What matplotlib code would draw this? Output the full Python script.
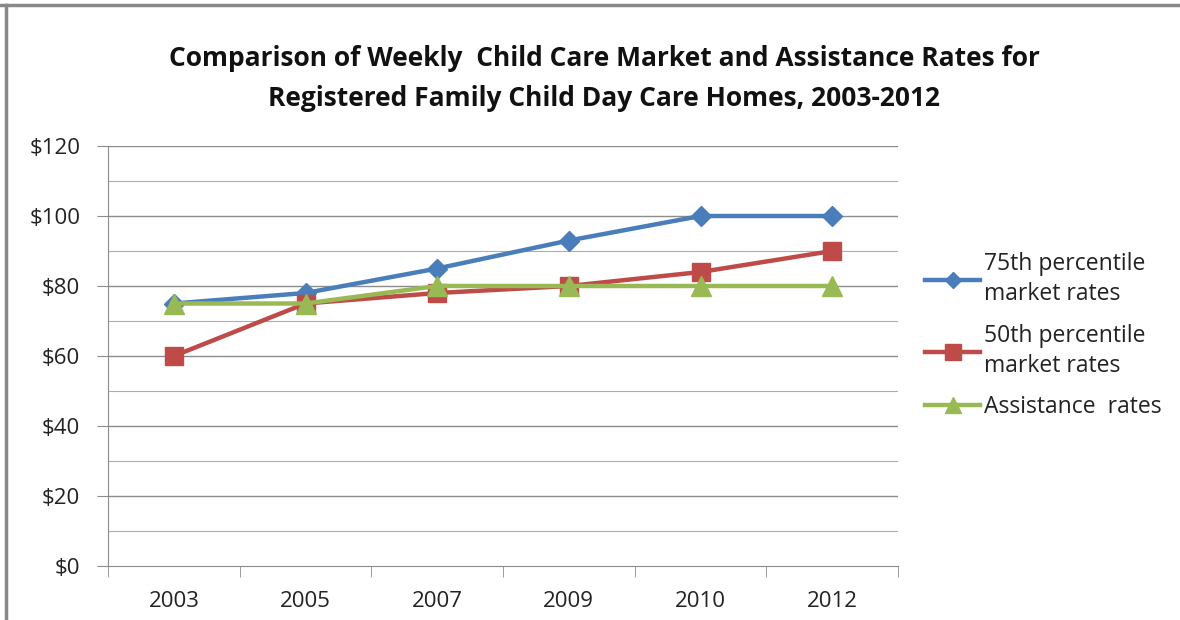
import matplotlib.pyplot as plt
from matplotlib.lines import Line2D

# ------------------------------------------------------------------
# Donnees
# ------------------------------------------------------------------
years = ["2003", "2005", "2007", "2009", "2010", "2012"]
p75 = [75, 78, 85, 93, 100, 100]
p50 = [60, 75, 78, 80, 84, 90]
assist = [75, 75, 80, 80, 80, 80]

labels = ["75th percentile\nmarket rates", "50th percentile\nmarket rates", "Assistance  rates"]
colors = ["#4A7EBB", "#BE4B48", "#98B954"]
markers = ["D", "s", "^"]
msizes = [10, 13, 14]

plt.rcParams['font.family'] = ['Open Sans', 'DejaVu Sans']

fig = plt.figure(figsize=(11.8, 6.2), dpi=100)
ax = fig.add_axes([108 / 1180, 1 - 566 / 620, 790 / 1180, 420 / 620])

x = list(range(len(years)))
series = [p75, p50, assist]
handles = []
for vals, lab, col, mk, ms in zip(series, labels, colors, markers, msizes):
    h, = ax.plot(x, vals, color=col, lw=3.2, marker=mk, markersize=ms,
                 markeredgecolor=col, label=lab, zorder=3)
    handles.append(h)

ax.set_xlim(-0.5, len(years) - 0.5)
ax.set_ylim(0, 120)
ax.set_yticks(range(0, 121, 20))
ax.set_yticklabels([f"${v}" for v in range(0, 121, 20)])
ax.set_xticks(x)
ax.set_xticklabels(years)
ax.set_xticks([i - 0.5 for i in range(len(years) + 1)], minor=True)

for v in range(10, 121, 10):
    ax.axhline(v, color="#8c8c8c", lw=1.0 if v % 20 == 0 else 0.8,
               alpha=1.0 if v % 20 == 0 else 0.7, zorder=1)

for s in ["top", "right"]:
    ax.spines[s].set_visible(False)
ax.spines["left"].set_color("#8c8c8c")
ax.spines["bottom"].set_color("#8c8c8c")

ax.tick_params(axis="y", which="major", length=8, color="#8c8c8c",
               labelsize=16, pad=12, labelcolor="#222222")
ax.tick_params(axis="x", which="major", length=0, labelsize=16, pad=18,
               labelcolor="#222222")
ax.tick_params(axis="x", which="minor", length=8, color="#8c8c8c")

fig.text(604 / 1180, 1 - 58 / 620,
         "Comparison of Weekly  Child Care Market and Assistance Rates for",
         ha="center", va="center", fontsize=19, fontweight="bold",
         color="#111111")
fig.text(604 / 1180, 1 - 98 / 620,
         "Registered Family Child Day Care Homes, 2003-2012",
         ha="center", va="center", fontsize=19, fontweight="bold",
         color="#111111")

leg = fig.legend(handles=handles, loc="upper left",
                 bbox_to_anchor=(916 / 1180, 1 - 243 / 620),
                 frameon=False, fontsize=16.5, handlelength=2.4,
                 handletextpad=0.15, labelspacing=0.75, borderaxespad=0,
                 markerscale=0.85)
for t in leg.get_texts():
    t.set_color("#222222")
    t.set_linespacing(1.35)

# cadre gris haut et gauche
fig.add_artist(Line2D([0, 1], [1 - 5 / 620] * 2, transform=fig.transFigure,
                      color="#888888", lw=2.5))
fig.add_artist(Line2D([6 / 1180] * 2, [0, 1 - 5 / 620], transform=fig.transFigure,
                      color="#888888", lw=2.5))

fig.savefig("out.png", dpi=100)
